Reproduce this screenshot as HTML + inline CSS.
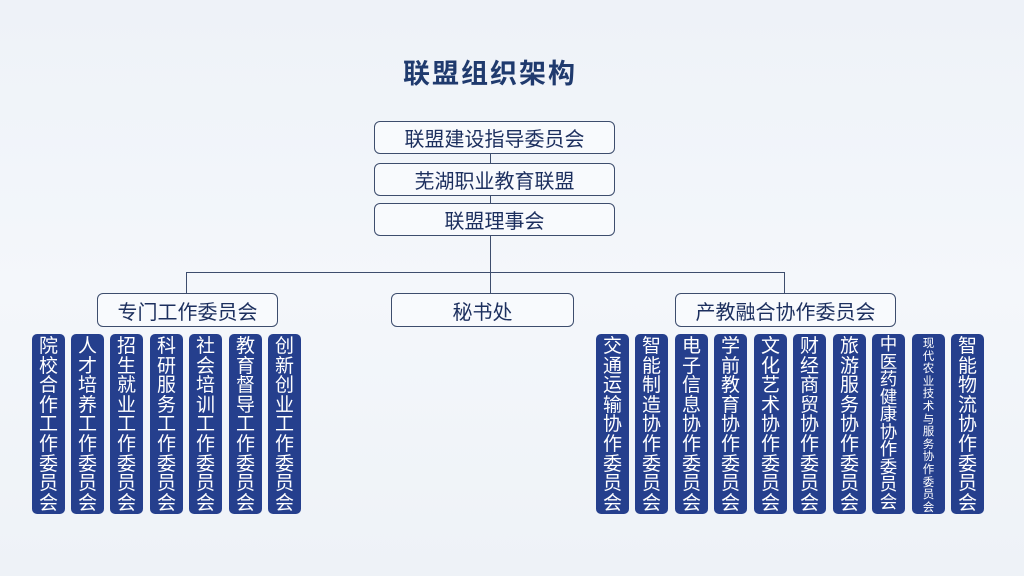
<!DOCTYPE html>
<html><head><meta charset="utf-8"><style>
body{margin:0;width:1024px;height:576px;overflow:hidden;background:linear-gradient(180deg,#eef2f8 0%,#f4f7fb 50%,#eef2f7 100%);font-family:"Liberation Sans","Noto Sans CJK SC",sans-serif;position:relative}
.t{position:absolute;left:0;width:980px;text-align:center;top:52px;font-size:27px;font-weight:bold;color:#1f3a6e;letter-spacing:2px}
.b{position:absolute;box-sizing:border-box;border:1.5px solid #3d4d6d;border-radius:6px;background:#f8fafd;color:#1c2f5e;font-size:20px;text-align:center;display:flex;align-items:center;justify-content:center}
.l{position:absolute;background:#3d4d6d}
.c{position:absolute;top:334px;width:33px;height:180px;background:#253f8d;border-radius:5px;color:#fff;font-size:19px;line-height:19.6px;text-align:center;box-sizing:border-box;padding-top:3px;word-break:break-all;overflow:hidden}
.m{line-height:17.5px;font-size:17.5px;padding-top:2px}
.s{font-size:11.5px;line-height:12.6px;padding:4px 0 0}
.s div{width:13px;margin:0 auto}
</style></head><body>
<div class="t">联盟组织架构</div>
<div class="b" style="left:374px;top:121px;width:241px;height:33px">联盟建设指导委员会</div>
<div class="b" style="left:374px;top:163px;width:241px;height:33px">芜湖职业教育联盟</div>
<div class="b" style="left:374px;top:203px;width:241px;height:33px">联盟理事会</div>
<div class="l" style="left:490px;top:154px;width:1px;height:9px"></div>
<div class="l" style="left:490px;top:196px;width:1px;height:7px"></div>
<div class="l" style="left:490px;top:236px;width:1px;height:57px"></div>
<div class="l" style="left:186px;top:272px;width:599px;height:1px"></div>
<div class="l" style="left:186px;top:272px;width:1px;height:21px"></div>
<div class="l" style="left:784px;top:272px;width:1px;height:21px"></div>
<div class="b" style="left:97px;top:293px;width:181px;height:34px">专门工作委员会</div>
<div class="b" style="left:391px;top:293px;width:183px;height:34px">秘书处</div>
<div class="b" style="left:675px;top:293px;width:221px;height:34px">产教融合协作委员会</div>

<div class="c" style="left:32px">院校合作工作委员会</div>
<div class="c" style="left:71px">人才培养工作委员会</div>
<div class="c" style="left:110px">招生就业工作委员会</div>
<div class="c" style="left:150px">科研服务工作委员会</div>
<div class="c" style="left:189px">社会培训工作委员会</div>
<div class="c" style="left:229px">教育督导工作委员会</div>
<div class="c" style="left:268px">创新创业工作委员会</div>

<div class="c" style="left:596px">交通运输协作委员会</div>
<div class="c" style="left:635px">智能制造协作委员会</div>
<div class="c" style="left:675px">电子信息协作委员会</div>
<div class="c" style="left:714px">学前教育协作委员会</div>
<div class="c" style="left:754px">文化艺术协作委员会</div>
<div class="c" style="left:793px">财经商贸协作委员会</div>
<div class="c" style="left:833px">旅游服务协作委员会</div>
<div class="c m" style="left:872px">中医药健康协作委员会</div>
<div class="c s" style="left:912px"><div>现代农业技术与服务协作委员会</div></div>
<div class="c" style="left:951px">智能物流协作委员会</div>
</body></html>
